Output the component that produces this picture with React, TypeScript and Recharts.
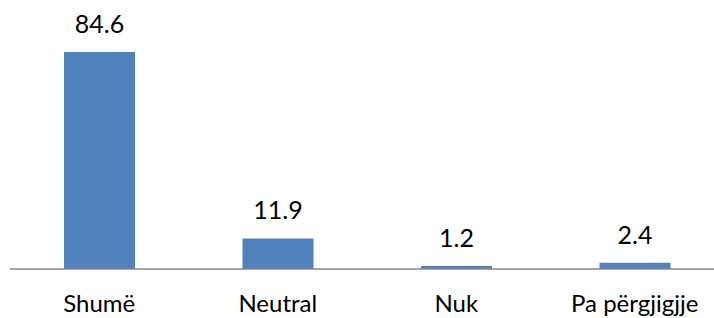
import { Bar, BarChart, LabelList, XAxis, YAxis } from 'recharts';

// Response shares (%) per answer option.
const categories = ['Shumë', 'Neutral', 'Nuk', 'Pa përgjigjje'];
const shares = [84.6, 11.9, 1.2, 2.4];

const data = categories.map((name, i) => ({ name, value: shares[i] }));

const FONT = 'Lato, "Open Sans", sans-serif';
const BAR_COLOR = '#4F81BD';

function CategoryTick(props: { x?: number; y?: number; payload?: { value: string } }) {
  const { x = 0, y = 0, payload } = props;
  return (
    <text x={x} y={y} dy={43} textAnchor="middle" fill="#000" fontSize={24} fontFamily={FONT}>
      {payload?.value}
    </text>
  );
}

export default function App() {
  return (
    <div
      style={{
        position: 'absolute',
        left: 0,
        top: 0,
        width: 714,
        height: 318,
        overflow: 'hidden',
        background: '#fff',
      }}
    >
      <BarChart
        width={730}
        height={318}
        data={data}
        margin={{ top: 12.5, right: 6, bottom: 0, left: 10 }}
      >
        <XAxis
          dataKey="name"
          height={49}
          axisLine={{ stroke: '#868686', strokeWidth: 1.5 }}
          tickLine={false}
          tickSize={0}
          tickMargin={0}
          tick={<CategoryTick />}
          interval={0}
        />
        <YAxis hide domain={[0, 100]} />
        <Bar dataKey="value" fill={BAR_COLOR} barSize={71} isAnimationActive={false}>
          <LabelList
            dataKey="value"
            position="top"
            offset={19}
            fill="#000"
            fontSize={25}
            fontFamily={FONT}
          />
        </Bar>
      </BarChart>
    </div>
  );
}
